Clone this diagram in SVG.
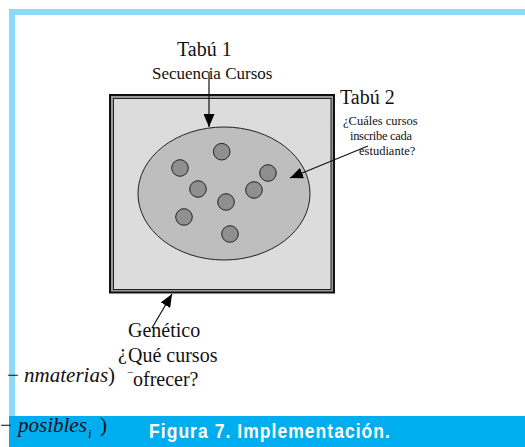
<svg xmlns="http://www.w3.org/2000/svg" width="525" height="447" viewBox="0 0 525 447">
  <style>
    .serif { font-family: "Liberation Serif", "Times New Roman", serif; fill: #111; }
    .big { font-size: 20px; }
    .small { font-size: 12.5px; }
    .it { font-style: italic; }
    .line { stroke: #111; stroke-width: 1.2; fill: none; }
    .dot { fill: #8f8f8f; stroke: #222; stroke-width: 1; }
    .cap { font-family: "Liberation Sans Narrow", "Liberation Sans", Arial, sans-serif; font-weight: bold; font-size: 20px; fill: #ffffff; letter-spacing: 1.2px; }
  </style>
  <defs>
    <marker id="ah" markerUnits="userSpaceOnUse" markerWidth="14" markerHeight="11" refX="13" refY="5.5" orient="auto">
      <path d="M0,0 L13,5.5 L0,11 z" fill="#000"/>
    </marker>
  </defs>

  <rect x="0" y="0" width="525" height="447" fill="#ffffff"/>

  <g id="frame">
    <rect x="9" y="9" width="516" height="6" fill="#8ED8F8"/>
    <rect x="9" y="9" width="6" height="407" fill="#8ED8F8"/>
    <rect x="9" y="416" width="516" height="31" fill="#00AEEF"/>
  </g>

  <g id="box">
    <rect x="110" y="95" width="224" height="197.5" fill="#9a9a9a" stroke="#111" stroke-width="2"/>
    <rect x="113.5" y="98.5" width="217.5" height="191" fill="#DCDCDC" stroke="#222" stroke-width="1"/>
  </g>

  <g id="population">
    <ellipse cx="224" cy="193.5" rx="86" ry="66.5" fill="#BEBEBE" stroke="#222" stroke-width="1"/>
    <circle class="dot" cx="221.7" cy="151.7" r="8.3"/>
    <circle class="dot" cx="180" cy="168" r="8.3"/>
    <circle class="dot" cx="268" cy="173" r="8.3"/>
    <circle class="dot" cx="198" cy="189" r="8.3"/>
    <circle class="dot" cx="254" cy="190" r="8.3"/>
    <circle class="dot" cx="226" cy="202" r="8.3"/>
    <circle class="dot" cx="184" cy="217" r="8.3"/>
    <circle class="dot" cx="230" cy="234" r="8.3"/>
  </g>

  <g id="connectors">
    <line class="line" x1="209" y1="72" x2="209" y2="127" marker-end="url(#ah)"/>
    <line class="line" x1="368" y1="146" x2="290" y2="178" marker-end="url(#ah)"/>
    <line class="line" x1="152" y1="328" x2="172" y2="294" marker-end="url(#ah)"/>
  </g>

  <g id="tabu1">
    <text class="serif big" x="177" y="56">Tabú 1</text>
    <text class="serif" font-size="17" x="152" y="79">Secuencia Cursos</text>
  </g>

  <g id="tabu2">
    <text class="serif big" x="340" y="104">Tabú 2</text>
    <text class="serif small" x="343" y="124.5">¿Cuáles cursos</text>
    <text class="serif small" x="350" y="140" letter-spacing="-0.3">inscribe cada</text>
    <text class="serif small" x="359" y="155">estudiante?</text>
  </g>

  <g id="genetico">
    <text class="serif big" x="128" y="337">Genético</text>
    <text class="serif big" x="118" y="359">¿</text>
    <text class="serif big" x="128" y="362">Qué cursos</text>
    <text class="serif big" x="133" y="386">ofrecer?</text>
  </g>

  <g id="formula-fragments">
    <text class="serif" font-size="21" x="7" y="382">− <tspan class="it">nmaterias</tspan>)</text>
    <text class="serif" font-size="12" x="127" y="376">−</text>
    <text class="serif" font-size="21" x="0" y="432">−<tspan class="it" x="18">posibles</tspan><tspan class="it" font-size="13" x="88" y="438">i</tspan><tspan x="100" y="432">)</tspan></text>
  </g>

  <g id="caption">
    <text class="cap" x="149" y="438" textLength="242" lengthAdjust="spacingAndGlyphs">Figura 7. Implementación.</text>
  </g>
</svg>
